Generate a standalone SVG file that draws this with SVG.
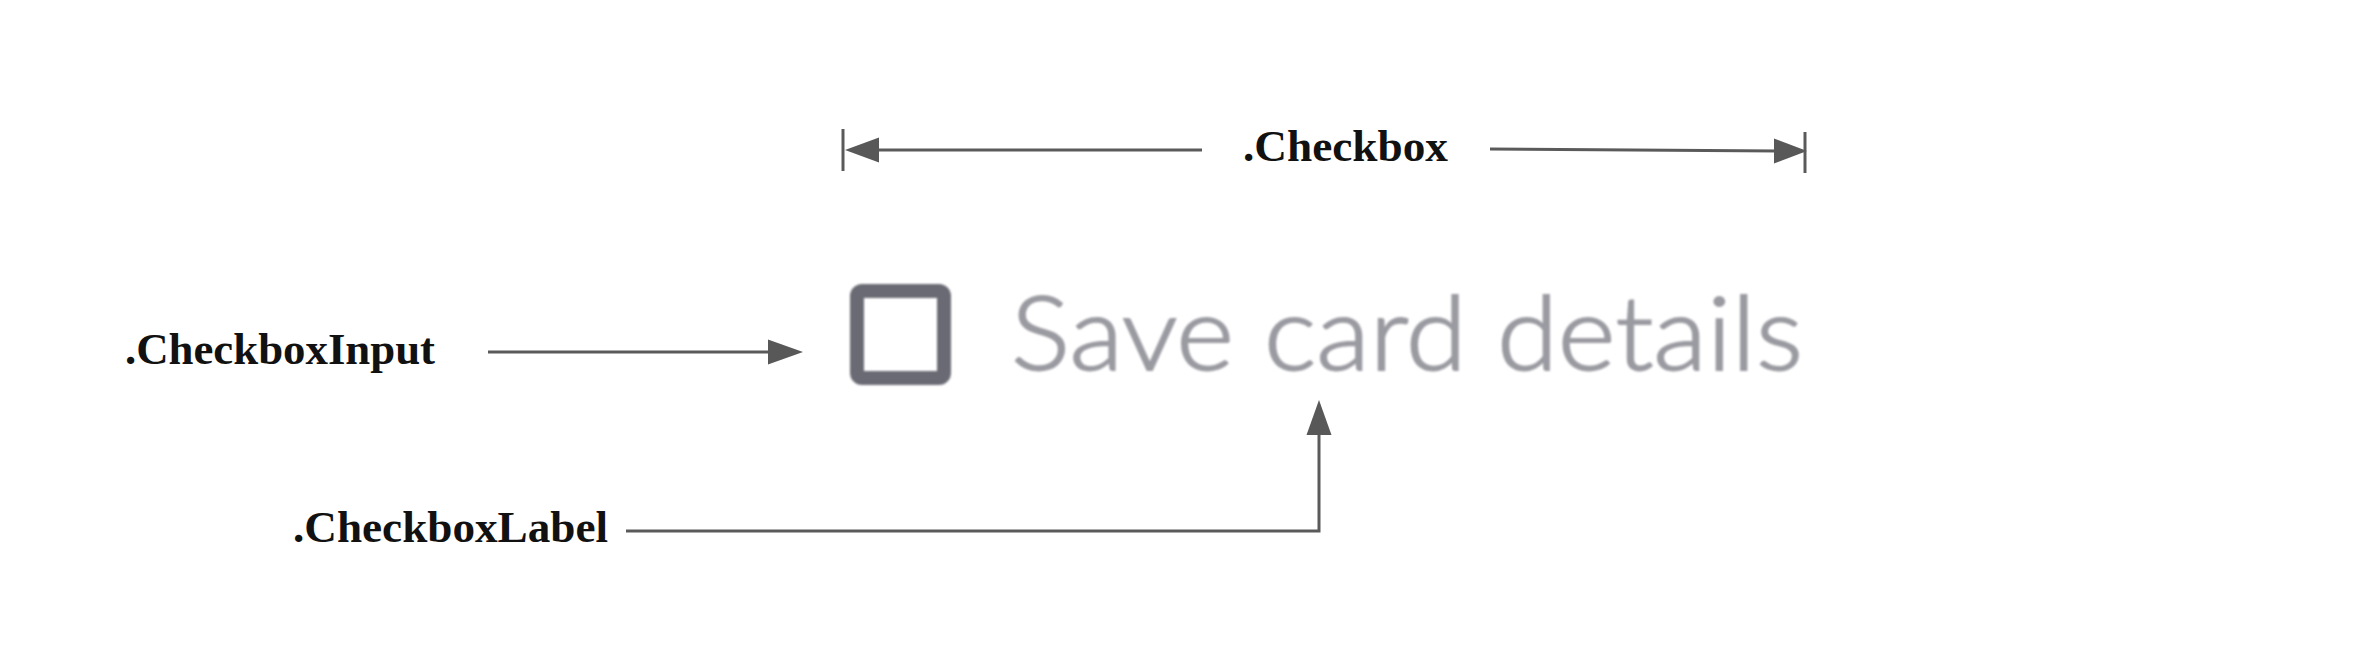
<svg xmlns="http://www.w3.org/2000/svg" width="2378" height="666" viewBox="0 0 2378 666">
<style>
.lbl{font-family:"Liberation Serif","Times New Roman",serif;font-weight:bold;font-size:45px;fill:#111;}
.ln{stroke:#5a5a5a;stroke-width:3;fill:none;}
.ah{fill:#585858;}
.ui{font-family:Lato,"Noto Sans",sans-serif;font-weight:300;font-size:102px;fill:#9a9aa1;stroke:#9a9aa1;stroke-width:1.8px;}
</style>
<defs>
<filter id="soft" x="-5%" y="-5%" width="110%" height="110%"><feGaussianBlur stdDeviation="1.2"/></filter>
</defs>
<rect width="2378" height="666" fill="#fff"/>
<g id="component" filter="url(#soft)">
<rect x="857" y="291" width="87" height="87" rx="5" fill="none" stroke="#6b6b74" stroke-width="14"/>
<text class="ui" x="1011" y="370" textLength="792" lengthAdjust="spacingAndGlyphs">Save card details</text>
</g>
<g id="checkbox-node">
<text class="lbl" x="1243" y="161" textLength="205" lengthAdjust="spacingAndGlyphs">.Checkbox</text>
</g>
<g id="checkboxinput-node">
<text class="lbl" x="125" y="364" textLength="310" lengthAdjust="spacingAndGlyphs">.CheckboxInput</text>
</g>
<g id="checkboxlabel-node">
<text class="lbl" x="293" y="542" textLength="315" lengthAdjust="spacingAndGlyphs">.CheckboxLabel</text>
</g>
<g id="connectors">
<line class="ln" x1="843" y1="129" x2="843" y2="171"/>
<line class="ln" x1="876" y1="150" x2="1202" y2="150"/>
<polygon class="ah" points="845,150 879,137.5 879,162.5"/>
<line class="ln" x1="1490" y1="149" x2="1778" y2="151"/>
<polygon class="ah" points="1807,151 1774,138.5 1774,163.5"/>
<line class="ln" x1="1805" y1="132" x2="1805" y2="173"/>
<line class="ln" x1="488" y1="352" x2="770" y2="352"/>
<polygon class="ah" points="803,352 768,339.5 768,364.5"/>
<polyline class="ln" points="626,531 1319,531 1319,432"/>
<polygon class="ah" points="1319,400 1306.5,435 1331.5,435"/>
</g>
</svg>
